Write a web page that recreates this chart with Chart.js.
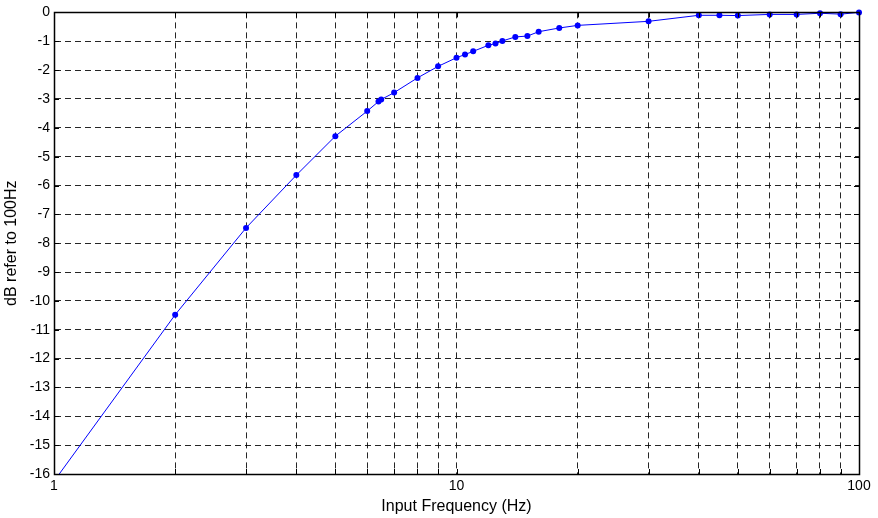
<!DOCTYPE html>
<html>
<head>
<meta charset="utf-8">
<script src="https://cdn.jsdelivr.net/npm/chart.js@4/dist/chart.umd.min.js"></script>
<style>
html,body{margin:0;padding:0;background:#fff;}
#wrap{width:878px;height:518px;position:relative;}
</style>
</head>
<body>
<div id="wrap"><canvas id="c" width="878" height="518"></canvas></div>
<script>
const frequencies = [1,2,3,4,5,6,6.4,6.5,7,8,9,10,10.5,11,12,12.5,13,14,15,16,18,20,30,40,45,50,60,70,80,90,100];
const dbValues = [-16.25,-10.48,-7.47,-5.64,-4.29,-3.42,-3.09,-3.02,-2.78,-2.27,-1.87,-1.57,-1.46,-1.35,-1.14,-1.08,-0.99,-0.85,-0.82,-0.67,-0.54,-0.45,-0.31,-0.10,-0.10,-0.11,-0.07,-0.07,-0.03,-0.06,0];
const xTickValues = [1,2,3,4,5,6,7,8,9,10,20,30,40,50,60,70,80,90,100];
const xTickLabels = {1:'1',10:'10',100:'100'};
const yTickValues = [0,-1,-2,-3,-4,-5,-6,-7,-8,-9,-10,-11,-12,-13,-14,-15,-16];
const xTitle = 'Input Frequency (Hz)';
const yTitle = 'dB refer to 100Hz';

const points = frequencies.map((f,i)=>({x:f,y:dbValues[i]}));
const FONT = '"Liberation Sans", Arial, sans-serif';

const framePlugin = {
  id:'frame',
  afterDatasetsDraw(chart){
    const {ctx, chartArea:a, scales} = chart;
    ctx.save();
    ctx.strokeStyle = '#000';
    ctx.lineWidth = 1;
    ctx.setLineDash([]);
    ctx.beginPath();
    xTickValues.forEach(v=>{
      const px = Math.round(scales.x.getPixelForValue(v))+0.5;
      ctx.moveTo(px,a.bottom); ctx.lineTo(px,a.bottom-5);
      ctx.moveTo(px,a.top); ctx.lineTo(px,a.top+5);
    });
    yTickValues.forEach(v=>{
      const py = Math.round(scales.y.getPixelForValue(v))+0.5;
      ctx.moveTo(a.left,py); ctx.lineTo(a.left+5,py);
      ctx.moveTo(a.right,py); ctx.lineTo(a.right-5,py);
    });
    ctx.stroke();
    ctx.lineWidth = 1.5;
    ctx.strokeRect(Math.round(a.left)+0.5, Math.round(a.top)+0.5, Math.round(a.right-a.left), Math.round(a.bottom-a.top));
    ctx.restore();
  }
};

new Chart(document.getElementById('c'), {
  type:'line',
  data:{datasets:[{
    data:points,
    borderColor:'#0000ff',
    backgroundColor:'#0000ff',
    borderWidth:1,
    pointRadius:3,
    pointHoverRadius:3,
    pointBorderWidth:0,
    tension:0,
    clip:{left:0,top:5,right:5,bottom:0}
  }]},
  options:{
    responsive:false,
    animation:false,
    events:[],
    layout:{padding:{left:0,right:19,top:4,bottom:0}},
    plugins:{legend:{display:false},tooltip:{enabled:false}},
    scales:{
      x:{
        type:'logarithmic',
        min:1,max:100,
        afterBuildTicks(s){ s.ticks = xTickValues.map(v=>({value:v})); },
        afterFit(s){ s.height = 44; },
        ticks:{
          autoSkip:false, maxRotation:0, padding:4,
          color:'#000', font:{family:FONT, size:14},
          callback:(v)=> xTickLabels[v] || ''
        },
        grid:{color:'rgba(0,0,0,0.85)', lineWidth:1, drawTicks:false},
        border:{display:true,color:'#000',dash:[6,4]},
        title:{display:true,text:xTitle,color:'#000',
          font:{family:FONT, size:16},padding:{top:0,bottom:2}}
      },
      y:{
        min:-16,max:0,
        afterBuildTicks(s){ s.ticks = yTickValues.map(v=>({value:v})); },
        afterFit(s){ s.width = 54; },
        ticks:{autoSkip:false, padding:4, color:'#000',
          font:{family:FONT, size:14}},
        grid:{color:'rgba(0,0,0,0.85)', lineWidth:1, drawTicks:false},
        border:{display:true,color:'#000',dash:[6,4]},
        title:{display:true,text:yTitle,color:'#000',
          font:{family:FONT, size:16},padding:{top:2,bottom:0}}
      }
    }
  },
  plugins:[framePlugin]
});
</script>
</body>
</html>
